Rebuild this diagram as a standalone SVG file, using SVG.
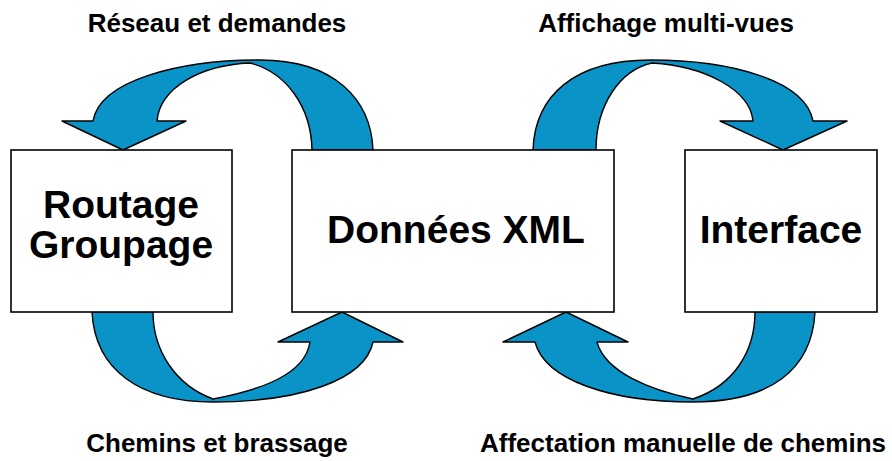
<svg xmlns="http://www.w3.org/2000/svg" width="892" height="461" viewBox="0 0 892 461">
<style>
.box{fill:#fff;stroke:#000;stroke-width:1.6}
.arr{fill:#0a93c6;stroke:#000;stroke-width:1.4;stroke-linejoin:round}
.big{font-family:"Liberation Sans",Arial,sans-serif;font-weight:bold;font-size:39px;fill:#000;text-anchor:middle}
.lbl{font-family:"Liberation Sans",Arial,sans-serif;font-weight:bold;font-size:26px;fill:#000;text-anchor:middle}
</style>
<rect width="892" height="461" fill="#fff"/>
<g id="connectors">
<path class="arr" d="M 373,150 C 371,100 335,60 260,60 C 180,60 100,80 93,121 L 62,121 L 123,150 L 186,121 L 157,121 C 160,88 200,65 250,63 C 285,72 311,105 312,150 Z"/>
<path class="arr" d="M 533,150 C 535,95 575,60 650,60 C 730,60 805,80 813,121 L 847,121 L 783,150 L 720,121 L 753,121 C 750,90 705,66 652,63 C 620,70 596,105 596,150 Z"/>
<path class="arr" d="M 92,312 C 95,370 140,402 213,402 C 300,402 365,380 373,342 L 403,342 L 342,312 L 278,342 L 310,342 C 305,375 260,390 213,399 C 175,385 153,350 153,312 Z"/>
<path class="arr" d="M 815,312 C 812,370 770,402 693,402 C 610,402 545,380 535,342 L 503,342 L 566,312 L 628,342 L 597,342 C 605,372 650,390 693,399 C 735,385 755,350 755,312 Z"/>
<text class="lbl" x="217" y="32">Réseau et demandes</text>
<text class="lbl" x="666" y="32">Affichage multi-vues</text>
<text class="lbl" x="217" y="452">Chemins et brassage</text>
<text class="lbl" x="683" y="452">Affectation manuelle de chemins</text>
</g>
<g id="routage">
<rect class="box" x="11" y="150" width="221" height="162"/>
<text class="big" x="121" y="218">Routage</text>
<text class="big" x="121" y="258">Groupage</text>
</g>
<g id="donnees">
<rect class="box" x="292" y="150" width="322" height="162"/>
<text class="big" x="456" y="243">Données XML</text>
</g>
<g id="interface">
<rect class="box" x="685" y="150" width="192" height="162"/>
<text class="big" x="781" y="243">Interface</text>
</g>
</svg>
